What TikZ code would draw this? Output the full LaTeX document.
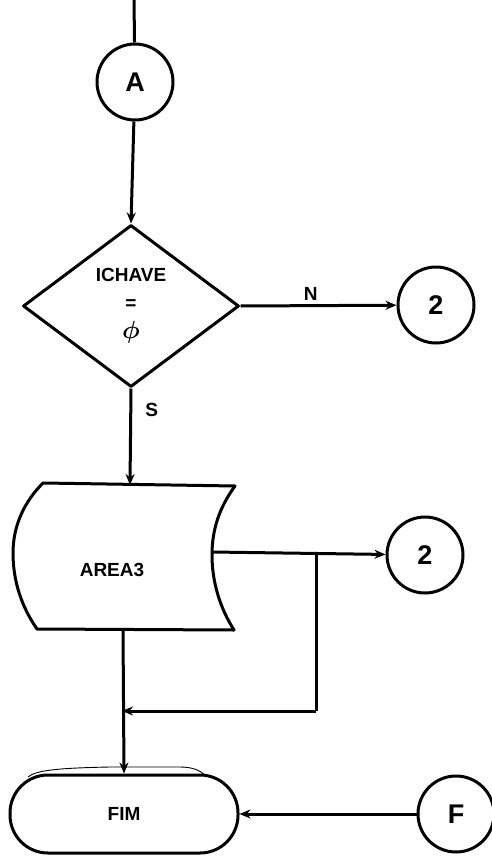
\documentclass[tikz,border=0pt]{standalone}
\usepackage{amsmath}
\usepackage{fontspec}
\setmainfont{Liberation Sans}
\usetikzlibrary{shapes.geometric,arrows.meta}
\begin{document}
\begin{tikzpicture}[x=1pt,y=-1pt,
  line width=3pt, line join=round,
  every node/.style={font=\bfseries\fontsize{19}{21}\selectfont},
  conn/.style={circle,draw,minimum size=76pt,inner sep=0pt,font=\bfseries\fontsize{27}{29}\selectfont},
  dec/.style={diamond,draw,minimum width=216pt,minimum height=162pt,inner sep=0pt,align=center},
  term/.style={rectangle,draw,rounded corners=38pt,minimum width=228pt,minimum height=78pt},
  lbl/.style={inner sep=1pt},
  arr/.style={-{Stealth[length=11pt,width=9pt]}},
  flow/.style={draw}
]
\useasboundingbox (0,0) rectangle (491,856);

% nodes
\node[conn] (A) at (135,82) {A};
\node[dec] (D) at (131,306) {ICHAVE\\[7pt]=\\[8pt]{\fontsize{30}{30}\selectfont$\boldsymbol{\phi}$}};
\node[conn] (C1) at (436,305) {2};
\node[conn] (C2) at (425,555) {2};
\node[term] (FIM) at (124,814) {FIM\hspace{3.2em}};
\node[conn] (F) at (456,814) {F};

% stored-data shape for AREA3
\draw (43,483) -- (235,486)
  .. controls (219,508) and (212,530) .. (212,555)
  .. controls (212,582) and (220,608) .. (234,630)
  -- (37,629)
  .. controls (21,606) and (13,580) .. (13,553)
  .. controls (13,526) and (24,502) .. (43,483) -- cycle;
\node (AR) at (112,570) {AREA3};
\coordinate (ARtop) at (130,485);
\coordinate (ARbot) at (123,629);
\coordinate (ARright) at (212,552);
\coordinate (split) at (316,553);
\coordinate (join) at (122,711);
\coordinate (loopc) at (316,711);

% pencil trace above terminal
\draw[line width=0.9pt] (28,777) .. controls (36,770) and (60,768) .. (110,767) -- (180,767) .. controls (192,767) and (200,770) .. (206,776);

% top entry line
\coordinate (topin) at (134,0);
\draw (topin) -- (A);

% connectors
\draw[arr] (A) -- (D.north);
\draw[arr] (D.east) -- node[lbl,above=3pt,pos=0.45] {N} (C1);
\draw[arr] (D.south) -- node[lbl,right=12pt,pos=0.22] {S} (ARtop);
\draw[arr] (ARright) -- (C2);
\draw (split) -- (loopc);
\draw[arr] (loopc) -- (join);
\draw[arr] (ARbot) -- (FIM.north);
\draw[arr] (F) -- (FIM.east);
\end{tikzpicture}
\end{document}
